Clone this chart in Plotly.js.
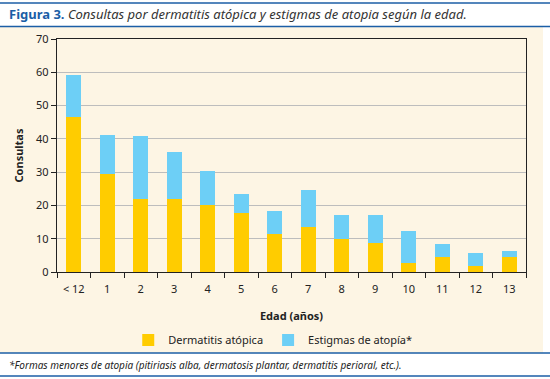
<!DOCTYPE html>
<html>
<head>
<meta charset="utf-8">
<script src="https://cdn.plot.ly/plotly-3.0.1.min.js"></script>
<style>html,body{margin:0;padding:0;background:#fff;}#chart{width:550px;height:379px;}</style>
</head>
<body>
<div id="chart"></div>
<script>
const categories = ["< 12", "1", "2", "3", "4", "5", "6", "7", "8", "9", "10", "11", "12", "13"];
const dermatitis = [46.7, 29.3, 22, 22, 20, 17.7, 11.3, 13.5, 10, 8.7, 2.7, 4.6, 1.7, 4.6];
const estigmas   = [12.4, 12, 19, 14.2, 10.2, 5.6, 6.9, 11, 7, 8.3, 9.5, 3.7, 3.9, 1.6];
const yTicks = [0, 10, 20, 30, 40, 50, 60, 70];

const FONT = "'Noto Sans', 'Open Sans', sans-serif";
const BLUE = "#1b5ea6";

const traces = [
  {type: "bar", name: "Dermatitis atópica", x: categories, y: dermatitis,
   marker: {color: "#ffcc00"}, width: 0.46, hoverinfo: "skip"},
  {type: "bar", name: "Estigmas de atopía*", x: categories, y: estigmas,
   marker: {color: "#6dcff6"}, width: 0.46, hoverinfo: "skip"}
];

// paper helpers (plot area: x 57..526, y 39..272 px)
const px = v => (v - 57) / 469;
const py = v => (272 - v) / 233;

const layout = {
  width: 550, height: 379,
  margin: {l: 57, r: 24, t: 39, b: 107},
  paper_bgcolor: "#ffffff",
  plot_bgcolor: "rgba(0,0,0,0)",
  barmode: "stack",
  showlegend: true,
  font: {family: FONT, size: 11, color: "#222"},
  legend: {orientation: "h", x: 0.46, xanchor: "center", y: py(340), yanchor: "middle",
           font: {family: FONT, size: 11, color: "#222"}, bgcolor: "rgba(0,0,0,0)",
           itemwidth: 30, traceorder: "normal"},
  xaxis: {
    type: "category", tickson: "boundaries", ticks: "outside", ticklen: 5,
    tickcolor: "#222", showline: true, linecolor: "#222", linewidth: 1.2, mirror: true,
    showgrid: false, tickfont: {family: FONT, size: 11, color: "#222"},
    ticklabelstandoff: 7,
    title: {text: "<b>Edad (años)</b>", font: {family: FONT, size: 11, color: "#222"}, standoff: 16},
    fixedrange: true
  },
  yaxis: {
    range: [0, 70], tickvals: yTicks, ticks: "outside", ticklen: 5, tickcolor: "#222",
    showline: true, linecolor: "#222", linewidth: 1.2, mirror: true,
    showgrid: true, gridcolor: "#bdbdbd", gridwidth: 1, zeroline: false,
    tickfont: {family: FONT, size: 11, color: "#222"},
    title: {text: "<b>Consultas</b>", font: {family: FONT, size: 11, color: "#222"}, standoff: 10},
    fixedrange: true
  },
  shapes: [
    {type: "rect", xref: "paper", yref: "paper", x0: px(0), x1: px(543), y0: py(353), y1: py(27),
     fillcolor: "#fdf5e4", line: {width: 0}, layer: "below"},
    {type: "line", xref: "paper", yref: "paper", x0: px(0), x1: px(550), y0: py(3), y1: py(3),
     line: {color: BLUE, width: 1.5}},
    {type: "line", xref: "paper", yref: "paper", x0: px(0), x1: px(550), y0: py(26.5), y1: py(26.5),
     line: {color: BLUE, width: 1.5}},
    {type: "line", xref: "paper", yref: "paper", x0: px(0), x1: px(550), y0: py(353), y1: py(353),
     line: {color: BLUE, width: 1.5}},
    {type: "line", xref: "paper", yref: "paper", x0: px(0), x1: px(550), y0: py(376), y1: py(376),
     line: {color: BLUE, width: 1.5}}
  ],
  annotations: [
    {xref: "paper", yref: "paper", x: px(7), y: py(14.5), xanchor: "left", yanchor: "middle",
     showarrow: false, align: "left",
     text: "<span style='color:" + BLUE + "'><b>Figura 3.</b></span> <i>Consultas por dermatitis atópica y estigmas de atopia según la edad.</i>",
     font: {family: FONT, size: 13, color: "#333"}},
    {xref: "paper", yref: "paper", x: px(7), y: py(364.5), xanchor: "left", yanchor: "middle",
     showarrow: false, align: "left",
     text: "<i>*Formas menores de atopia (pitiriasis alba, dermatosis plantar, dermatitis perioral, etc.).</i>",
     font: {family: FONT, size: 10, color: "#222"}}
  ]
};

Plotly.newPlot("chart", traces, layout, {displayModeBar: false, staticPlot: true});
</script>
</body>
</html>
